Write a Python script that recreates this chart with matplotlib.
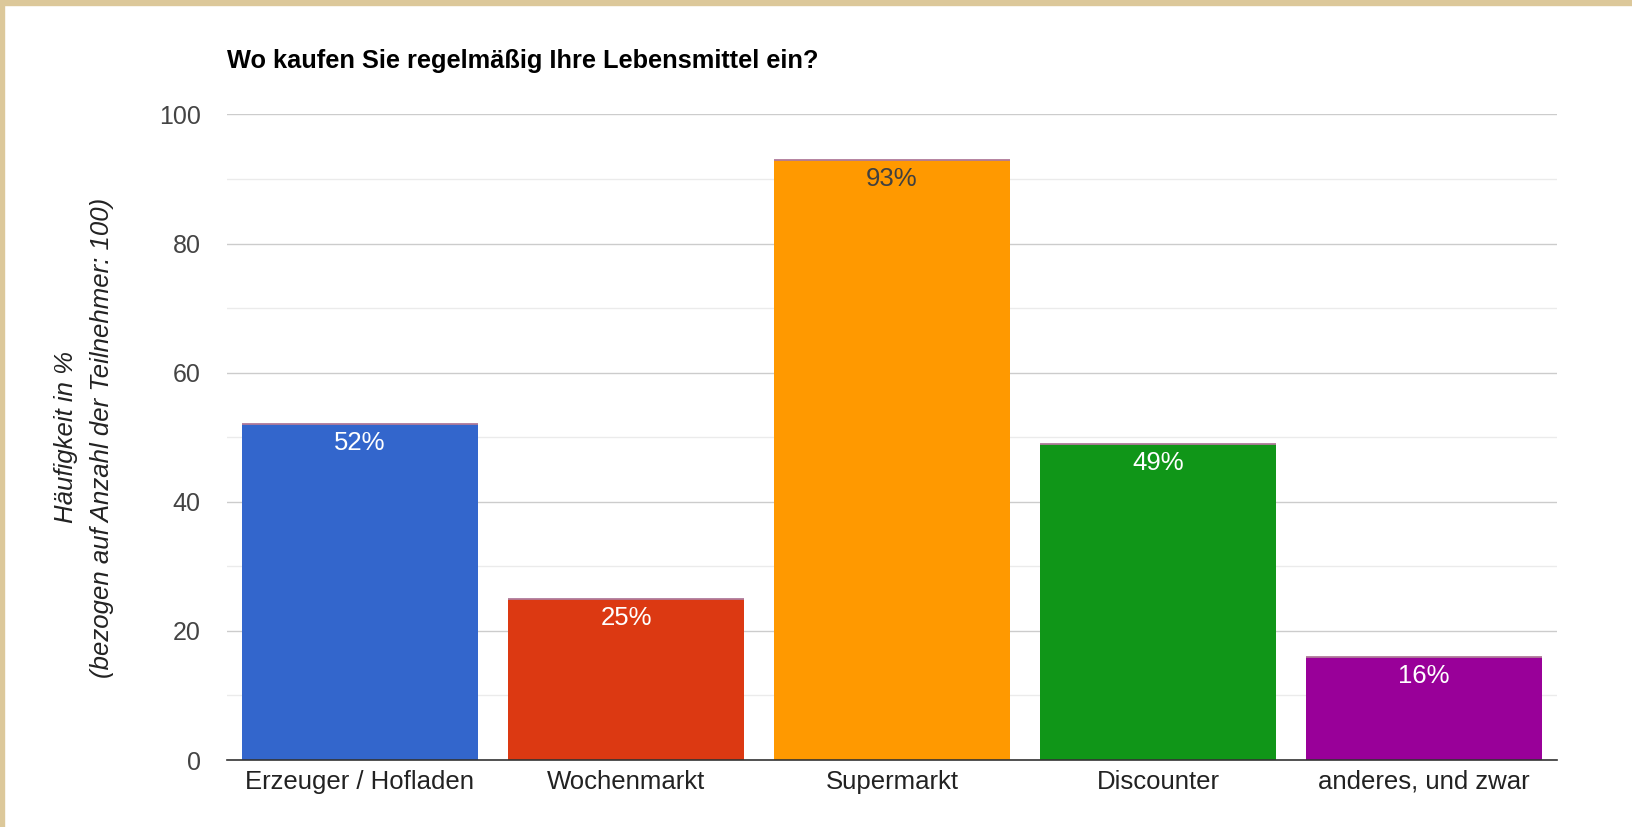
import matplotlib.pyplot as plt
from matplotlib.patches import Rectangle

plt.rcParams['font.family'] = ['Liberation Sans', 'DejaVu Sans']

categories = ['Erzeuger / Hofladen', 'Wochenmarkt', 'Supermarkt',
              'Discounter', 'anderes, und zwar']
values = [52, 25, 93, 49, 16]
colors = ['#3366cc', '#dc3912', '#ff9900', '#109618', '#990099']
label_colors = ['white', 'white', '#404040', 'white', 'white']

fig = plt.figure(figsize=(16.33, 8.27), dpi=100)
fig.patch.set_facecolor('white')

# beige frame on the top and left edge
fig.patches.append(Rectangle((0, 0.994), 1, 0.006, transform=fig.transFigure,
                             color='#dcc89a', zorder=0))
fig.patches.append(Rectangle((0, 0), 0.0025, 1, transform=fig.transFigure,
                             color='#dcc89a', zorder=0))

ax = fig.add_axes([0.139, 0.081, 0.8145, 0.7806])
x = list(range(len(categories)))
w = 0.89
ax.bar(x, values, width=w, color=colors, zorder=3)
# thin line on top of each bar
ax.hlines(values, [i - w / 2 for i in x], [i + w / 2 for i in x],
          colors='#b07a9a', linewidth=1.3, zorder=3.5)

for xi, v, c in zip(x, values, label_colors):
    ax.annotate(f'{v}%', (xi, v), xytext=(0, -5), textcoords='offset points',
                ha='center', va='top', fontsize=18.5, color=c, zorder=4)

ax.set_xlim(-0.5, len(categories) - 0.5)
ax.set_ylim(0, 100)
ax.set_yticks(range(0, 101, 20))
ax.set_yticks(range(10, 100, 20), minor=True)
ax.grid(axis='y', which='major', color='#cccccc', linewidth=1, zorder=0)
ax.grid(axis='y', which='minor', color='#ebebeb', linewidth=1, zorder=0)
ax.set_axisbelow(True)

for s in ['top', 'right', 'left']:
    ax.spines[s].set_visible(False)
ax.spines['bottom'].set_color('#333333')
ax.spines['bottom'].set_linewidth(1.2)
ax.spines['bottom'].set_zorder(5)

ax.set_xticks(x)
ax.set_xticklabels(categories, fontsize=18.5, color='#222222')
ax.tick_params(axis='y', which='both', length=0, labelsize=18,
               labelcolor='#444444', pad=19)
ax.tick_params(axis='x', length=0, pad=7)

fig.text(0.0515, 0.471,
         'Häufigkeit in %\n(bezogen auf Anzahl der Teilnehmer: 100)',
         fontsize=18.5, style='italic', color='#222222', rotation=90,
         ha='center', va='center', multialignment='center', linespacing=1.6)

fig.text(0.139, 0.926, 'Wo kaufen Sie regelmäßig Ihre Lebensmittel ein?',
         fontsize=18.3, fontweight='bold', color='#000000', va='center')

fig.savefig('out.png', dpi=100, facecolor='white')
